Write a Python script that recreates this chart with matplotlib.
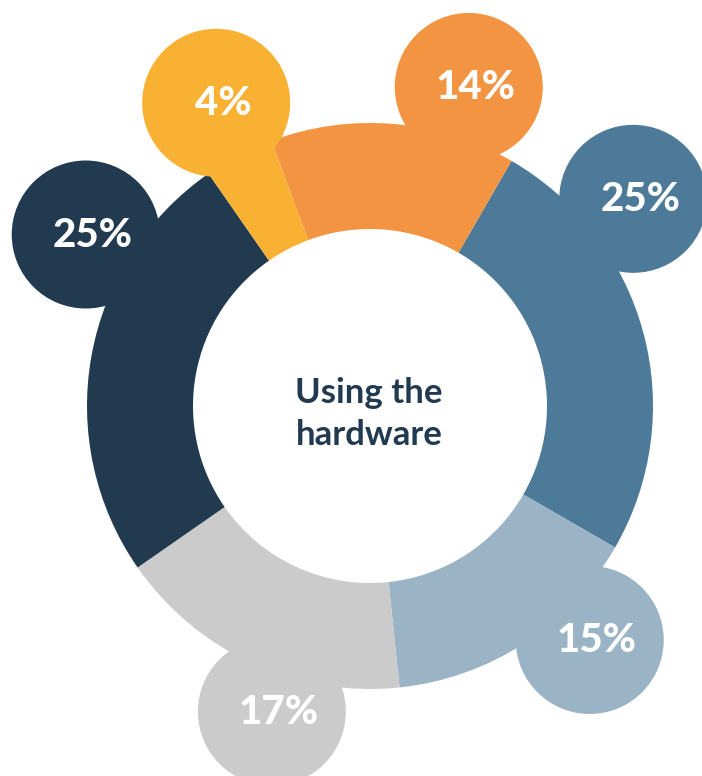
import numpy as np
import matplotlib.pyplot as plt
from matplotlib.patches import Circle

# Data (clockwise from the top-right slice)
labels = ['25%', '15%', '17%', '25%', '4%', '14%']
shares = [25, 15, 17, 25, 4, 14]
colors = ['#4E7A9A', '#9AB4C6', '#CBCBCB', '#213A4F', '#F8B133', '#F29441']
center_text = 'Using the\nhardware'

# Layout (pixel units, y up)
W, H = 702, 776
cx, cy = 370, 370
r_out, r_in = 283, 177
# bubble position: clockwise angle from top, distance from centre
bubble_ang = [51.8, 136.8, 197.8, 301.1, 333.1, 17.2]
bubble_dist = [335, 321, 321, 332, 340, 334]
bubble_r = [74, 74, 74, 74, 74, 74]

plt.rcParams['font.family'] = ['Lato', 'DejaVu Sans']

fig = plt.figure(figsize=(W / 100, H / 100), dpi=100)
ax = fig.add_axes([0, 0, 1, 1])

ax.pie(shares, colors=colors, startangle=90 - 30, counterclock=False,
       radius=r_out, center=(cx, cy),
       wedgeprops=dict(width=r_out - r_in, linewidth=0))

for lab, col, a, d, r in zip(labels, colors, bubble_ang, bubble_dist, bubble_r):
    t = np.deg2rad(a)
    bx = cx + d * np.sin(t)
    by = cy + d * np.cos(t)
    ax.add_patch(Circle((bx, by), r, color=col, lw=0, zorder=3))
    ax.text(bx + 7, by - 1, lab, color='white', fontsize=29, fontweight='black',
            ha='center', va='center', zorder=4)

ax.text(cx - 1, cy - 8, center_text, color='#213A4F', fontsize=25, fontweight='bold',
        ha='center', va='center', linespacing=1.35)

ax.set_xlim(0, W)
ax.set_ylim(0, H)
ax.set_aspect('equal')
ax.axis('off')

plt.savefig('out.png', dpi=100)
